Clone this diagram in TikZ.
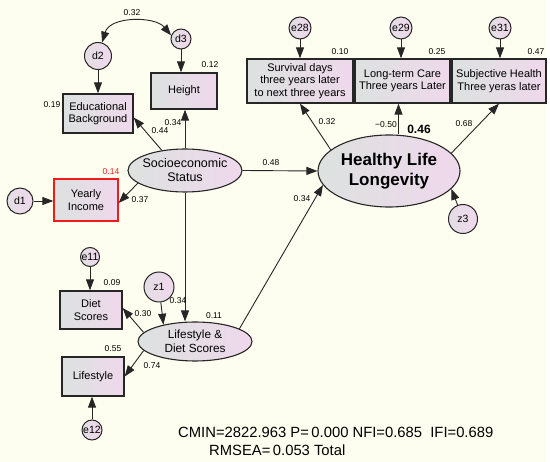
\documentclass[tikz,border=0pt]{standalone}
\usepackage{fontspec}
\setmainfont{Liberation Sans}
\usepackage{tikz}
\usetikzlibrary{arrows.meta,shapes.geometric,calc}
\definecolor{paper}{HTML}{FEFEF0}
\definecolor{shadeL}{HTML}{DCE2DF}
\definecolor{shadeR}{HTML}{EFD8EC}
\definecolor{ink}{HTML}{262626}
\definecolor{flagred}{HTML}{F01C1C}

\begin{document}
\begin{tikzpicture}[x=1pt, y=-1pt,
  obs/.style={draw=ink, line width=1.3pt, left color=shadeL, right color=shadeR, align=center, inner sep=1pt, font=\fontsize{11}{12.5}\selectfont},
  lat/.style={ellipse, draw=ink, line width=1.1pt, left color=shadeL, right color=shadeR, align=center, inner sep=0pt, inner xsep=-3pt, font=\fontsize{12.5}{14}\selectfont},
  err/.style={circle, draw=ink, line width=1pt, left color=shadeL!60!shadeR, right color=shadeR, inner sep=0pt, font=\fontsize{10.5}{10.5}\selectfont},
  coef/.style={inner sep=0pt, font=\fontsize{8.5}{9}\selectfont},
  stat/.style={inner sep=0pt, anchor=west, font=\fontsize{14.8}{16}\selectfont},
  arrow/.style={-{Triangle[length=11pt,width=8pt]}, line width=0.9pt, color=ink}
]
  \fill[white] (0,0) rectangle (550,462);
  \fill[paper] (0,0) rectangle (546,462);
  \useasboundingbox (0,0) rectangle (550,462);

  % observed variables
  \node[obs, minimum width=70pt, minimum height=39pt] (edu) at (98,113.5) {Educational\\Background};
  \node[obs, minimum width=66pt, minimum height=36pt] (height) at (184,91) {Height};
  \node[obs, draw=flagred, minimum width=64pt, minimum height=42pt] (income) at (86,200) {Yearly\\Income};
  \node[obs, minimum width=106pt, minimum height=44pt] (surv) at (300,81) {Survival days\\three years later\\to next three years};
  \node[obs, minimum width=95pt, minimum height=44pt] (ltc) at (402.5,81) {Long-term Care\\Three years Later};
  \node[obs, minimum width=94pt, minimum height=44pt] (subj) at (499,81) {Subjective Health\\Three yeras later};
  \node[obs, minimum width=62pt, minimum height=38pt] (diet) at (91,310) {Diet\\Scores};
  \node[obs, minimum width=62pt, minimum height=39pt] (life) at (93,376.5) {Lifestyle};

  % latent variables
  \node[lat, minimum width=114pt, minimum height=43pt] (ses) at (185,170.5) {Socioeconomic\\Status};
  \node[lat, minimum width=142pt, minimum height=72pt, inner xsep=0pt, font=\fontsize{17}{20}\selectfont\bfseries] (hll) at (389,171) {Healthy Life\\Longevity};
  \node[lat, minimum width=114pt, minimum height=39pt, font=\fontsize{11.8}{13.5}\selectfont] (lds) at (195,341.5) {Lifestyle \&\\Diet Scores};

  % error terms
  \node[err, minimum size=26pt] (d1) at (20,201) {d1};
  \node[err, minimum size=27pt] (d2) at (98,56) {d2};
  \node[err, minimum size=20pt] (d3) at (181,39) {d3};
  \node[err, minimum size=22pt] (e28) at (300,28) {e28};
  \node[err, minimum size=22pt] (e29) at (401,28) {e29};
  \node[err, minimum size=22pt] (e31) at (500,28) {e31};
  \node[err, minimum size=29pt] (z3) at (463,219) {z3};
  \node[err, minimum size=30pt] (z1) at (159,287) {z1};
  \node[err, minimum size=19pt] (e11) at (90,257) {e11};
  \node[err, minimum size=20pt] (e12) at (92,430) {e12};

  % errors to indicators
  \draw[arrow] (d1) -- (income.west |- d1);
  \draw[arrow] (d2) -- (d2 |- edu.north);
  \draw[arrow] (d3) -- (d3 |- height.north);
  \draw[arrow] (e28) -- (e28 |- surv.north);
  \draw[arrow] (e29) -- (e29 |- ltc.north);
  \draw[arrow] (e31) -- (e31 |- subj.north);
  \draw[arrow] (e11) -- (e11 |- diet.north);
  \draw[arrow] (e12) -- (e12 |- life.south);
  \draw[arrow] (z1) -- (lds.152);
  \draw[arrow] (z3) -- (hll.344);
  \draw[{Triangle[length=11pt,width=8pt]}-{Triangle[length=11pt,width=8pt]}, line width=0.9pt, ink]
    (d2.73) .. controls (110,16) and (155,16) .. (d3.160);

  % paths
  \draw[arrow] (ses.139) -- ($(edu.east)+(0,4)$);
  \draw[arrow] (ses.north) -- (ses.north |- height.south);
  \draw[arrow] (ses.195) -- ($(income.east)+(0,3)$);
  \draw[arrow] (ses.east) -- (hll.west);
  \draw[arrow] (ses.south) -- (ses.south |- lds.north);
  \draw[arrow] (lds.16) -- (hll.192);
  \draw[arrow] (lds.170) -- ($(diet.east)+(0,-2)$);
  \draw[arrow] (lds.190) -- (life.east);
  \draw[arrow] (hll.160) -- (surv.south);
  \coordinate (ltcin) at ($(ltc.south)+(-4,0)$);
  \draw[arrow] (ltcin |- hll.north) -- (ltcin);
  \draw[arrow] (hll.16) -- (subj.south);

  % estimates
  \node[coef] (c-d2d3) at (132,13) {0.32};
  \node[coef] (r-edu) at (52,105) {0.19};
  \node[coef] (r-height) at (210,65) {0.12};
  \node[coef, text=flagred] (r-income) at (111,172) {0.14};
  \node[coef] (c-edu) at (160,131) {0.44};
  \node[coef] (c-height) at (173,123) {0.34};
  \node[coef] (c-income) at (140,200) {0.37};
  \node[coef] (c-hll) at (271,163) {0.48};
  \node[coef] (r-surv) at (340,52) {0.10};
  \node[coef] (r-ltc) at (437,52) {0.25};
  \node[coef] (r-subj) at (536,52) {0.47};
  \node[coef] (c-surv) at (327,122) {0.32};
  \node[coef] (c-ltc) at (386,125) {−0.50};
  \node[coef, font=\fontsize{12}{13}\selectfont\bfseries] (r-hll) at (419,129) {0.46};
  \node[coef] (c-subj) at (464,124) {0.68};
  \node[coef] (c-lds-hll) at (302,199) {0.34};
  \node[coef] (r-diet) at (112,283) {0.09};
  \node[coef] (c-lds) at (178,301) {0.34};
  \node[coef] (r-lds) at (214,316) {0.11};
  \node[coef] (c-diet) at (143,314) {0.30};
  \node[coef] (r-life) at (113,349) {0.55};
  \node[coef] (c-life) at (152,366) {0.74};

  % fit indices
  \node[stat] (fit1) at (178,432) {CMIN=2822.963 P=\,0.000 NFI=0.685\ \ IFI=0.689};
  \node[stat] (fit2) at (209,450) {RMSEA=\,0.053 Total};
\end{tikzpicture}
\end{document}
